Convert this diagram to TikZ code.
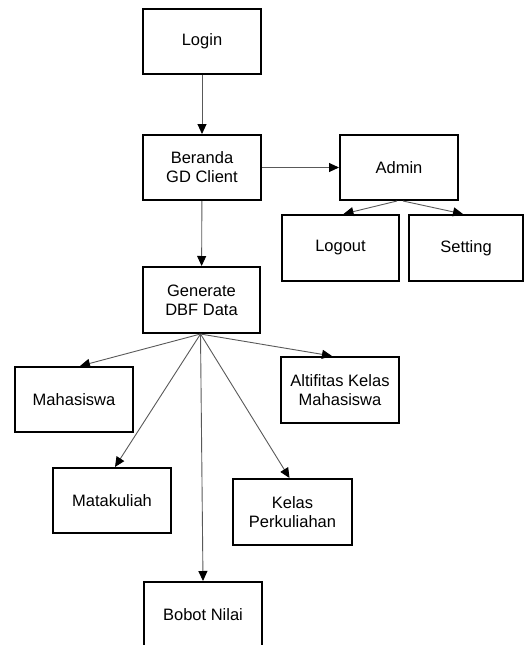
\documentclass[tikz,border=0pt]{standalone}
\usepackage{fontspec}
\setmainfont{Liberation Sans}
\usetikzlibrary{arrows.meta}
\tikzset{
  box/.style={draw=black, line width=2pt, minimum width=118pt, minimum height=65pt,
    align=center, font=\fontsize{16.5}{19}\selectfont, inner sep=0pt},
  conn/.style={draw=black!65, line width=0.9pt,
    -{Triangle[length=10pt,width=9pt,fill=black,color=black]}}
}
\begin{document}
\begin{tikzpicture}[x=1pt,y=-1pt]
\useasboundingbox (0,0) rectangle (524,645);
\node[box] (login) at (202,41) {Login};
\node[box] (beranda) at (202,167.5) {Beranda\\GD Client};
\node[box] (admin) at (399,167.5) {Admin};
\node[box, minimum width=117pt, minimum height=66pt] (logout) at (340.5,248) {Logout};
\node[box, minimum width=114pt, minimum height=66pt] (setting) at (466,248) {Setting};
\node[box, minimum width=117pt, minimum height=66pt] (generate) at (201.5,300) {Generate\\DBF Data};
\node[box] (maha) at (74,399.5) {Mahasiswa};
\node[box, minimum height=66pt] (alt) at (340,390) {Altifitas Kelas\\Mahasiswa};
\node[box] (mk) at (112,500.5) {Matakuliah};
\node[box, minimum width=119pt, minimum height=66pt] (kelas) at (292.5,512) {Kelas\\Perkuliahan};
\node[box, minimum height=66pt] (bobot) at (203,615) {Bobot Nilai};

\draw[conn] (login) -- (beranda);
\draw[conn] (beranda) -- (generate);
\draw[conn] (beranda.east) -- (admin.west);
\draw[conn] ([xshift=-2pt]admin.south) -- ([xshift=3pt]logout.north);
\draw[conn] ([xshift=4pt]admin.south) -- ([xshift=-3pt]setting.north);
\draw[conn] ([xshift=-1pt]generate.south) -- ([xshift=6pt]maha.north);
\draw[conn] ([xshift=-1pt]generate.south) -- ([xshift=3pt]mk.north);
\draw[conn] ([xshift=-1pt]generate.south) -- (bobot.north);
\draw[conn] ([xshift=-1pt]generate.south) -- ([xshift=-3pt]kelas.north);
\draw[conn] ([xshift=-1pt]generate.south) -- ([xshift=-8pt]alt.north);
\end{tikzpicture}
\end{document}
